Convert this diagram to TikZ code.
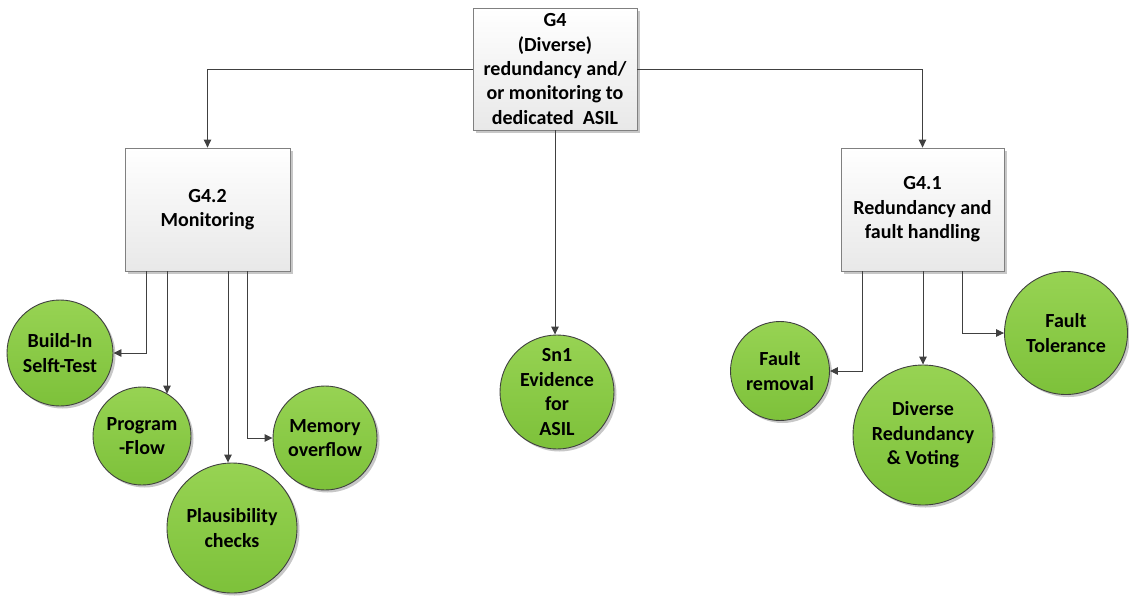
\documentclass[tikz,border=0pt]{standalone}
\usepackage{fontspec}
\setmainfont{Carlito}
\usetikzlibrary{arrows.meta,shadows,calc}

\definecolor{linegray}{HTML}{404040}
\definecolor{boxedge}{HTML}{808080}
\definecolor{greentop}{HTML}{97D353}
\definecolor{greenbot}{HTML}{7DC13A}

\tikzset{
  goalbox/.style={draw=boxedge, line width=0.8pt, top color=white, bottom color=black!9,
    align=center, font=\fontsize{20}{24.4}\selectfont\bfseries, inner sep=0pt,
    drop shadow={shadow xshift=2.5pt, shadow yshift=-2.5pt, opacity=0.22, fill=black}},
  solnode/.style={circle, draw=linegray, line width=0.9pt, top color=greentop, bottom color=greenbot,
    align=center, font=\fontsize{20}{24.4}\selectfont\bfseries, inner sep=0pt,
    drop shadow={shadow xshift=2.5pt, shadow yshift=-2.5pt, opacity=0.22, fill=black}},
  link/.style={draw=linegray, line width=0.9pt, -{Triangle[length=8pt,width=7.5pt]}},
}

\begin{document}
\begin{tikzpicture}[x=1pt, y=-1pt]
\useasboundingbox (0,0) rectangle (1129,595);

% goal boxes
\node[goalbox, minimum width=164pt, minimum height=122pt] (g4) at (555,69)
  {G4\\(Diverse)\\redundancy and/\\or monitoring to\\dedicated\ \ ASIL};
\node[goalbox, minimum width=165pt, minimum height=123pt] (g42) at (207.5,209.5)
  {G4.2\\Monitoring};
\node[goalbox, minimum width=163pt, minimum height=123pt] (g41) at (922.5,209.5)
  {G4.1\\Redundancy and\\fault handling};

% solution circles
\node[solnode, minimum size=106pt] (bist) at (60,353) {Build-In\\Selft-Test};
\node[solnode, minimum size=98pt] (flow) at (142,436) {Program\\-Flow};
\node[solnode, minimum size=130pt] (plaus) at (232,528) {Plausibility\\checks};
\node[solnode, minimum size=104pt] (mem) at (325,438) {Memory\\overflow};
\node[solnode, minimum size=114pt] (sn1) at (557,392) {Sn1\\Evidence\\for\\ASIL};
\node[solnode, minimum size=99pt] (frem) at (780,371) {Fault\\removal};
\node[solnode, minimum size=140pt] (divr) at (923,435) {Diverse\\Redundancy\\\& Voting};
\node[solnode, minimum size=123pt] (ftol) at (1066,333) {Fault\\Tolerance};

% branch points on the box bottoms
\coordinate (m1) at (146,271);
\coordinate (m2) at (167,271);
\coordinate (m3) at (228,271);
\coordinate (m4) at (247,271);
\coordinate (r1) at (862,271);
\coordinate (r2) at (923,271);
\coordinate (r3) at (962,271);

% connectors
\draw[link] (g4.west) -| (g42.north);
\draw[link] (g4.east) -| (g41.north);
\draw[link] (g4.south) -- (g4.south |- sn1.north);

\draw[link] (m1) |- (bist.east);
\draw[link] (m2) -- (m2 |- flow.59);
\draw[link] (m3) -- (m3 |- plaus.north);
\draw[link] (m4) |- (mem.west);

\draw[link] (r1) |- (frem.east);
\draw[link] (r2) -- (divr.north);
\draw[link] (r3) |- (ftol.west);
\end{tikzpicture}
\end{document}
